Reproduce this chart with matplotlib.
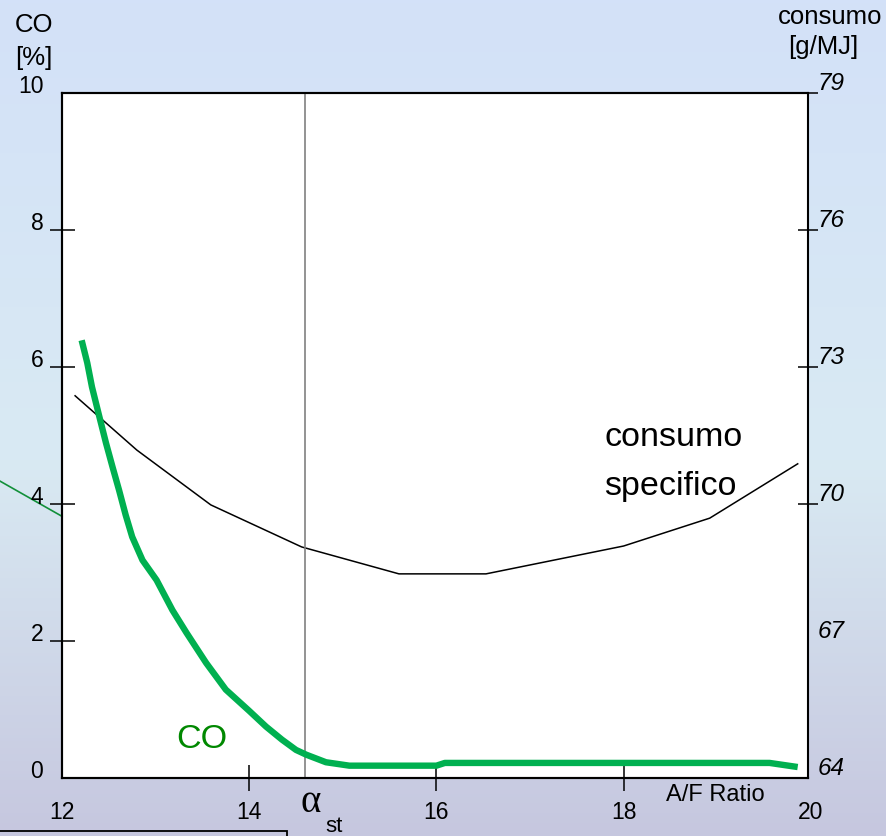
import numpy as np
import matplotlib.pyplot as plt
from matplotlib.colors import LinearSegmentedColormap
from matplotlib.patches import Rectangle

plt.rcParams['font.family'] = ['Liberation Sans', 'DejaVu Sans']

# CO emission [%] against air/fuel ratio
co_af = [12.21, 12.27, 12.32, 12.40, 12.47, 12.54, 12.61, 12.68, 12.75, 12.86,
         13.01, 13.18, 13.33, 13.54, 13.75, 14.00, 14.18, 14.35, 14.50, 14.61,
         14.82, 15.07, 16.00, 16.09, 19.56, 19.86]
co_pct = [6.39, 6.06, 5.71, 5.27, 4.89, 4.54, 4.20, 3.84, 3.52, 3.18,
          2.89, 2.45, 2.12, 1.68, 1.29, 0.98, 0.75, 0.56, 0.41, 0.34,
          0.23, 0.18, 0.18, 0.22, 0.22, 0.16]

# specific consumption [g/MJ] against air/fuel ratio
cons_af = [12.14, 12.80, 13.59, 14.56, 15.60, 16.53, 18.00, 18.92, 19.86]
cons_gmj = [72.37, 71.18, 69.98, 69.06, 68.47, 68.47, 69.08, 69.69, 70.88]

# connector line coming in from the left of the slide
link_af = [11.33, 12.0]
link_co = [4.34, 3.82]

af_labels = [12, 14, 16, 18, 20]
co_labels = [0, 2, 4, 6, 8, 10]
cons_labels = [64, 67, 70, 73, 76, 79]
af_stoich = 14.6

W, H = 887, 836
fig = plt.figure(figsize=(W / 100, H / 100), dpi=100)

# slide background gradient
bg = fig.add_axes([0, 0, 1, 1], zorder=-10)
cmap = LinearSegmentedColormap.from_list(
    'slide', [(0, '#d3e1f8'), (0.55, '#d9eaf3'), (1, '#c6c7df')])
bg.imshow(np.linspace(0, 1, 256).reshape(-1, 1), aspect='auto', cmap=cmap,
          extent=[0, 1, 0, 1])
bg.axis('off')

ax = fig.add_axes([62 / W, 1 - 778 / H, (808 - 62) / W, (778 - 93) / H])
ax.set_xlim(12, 19.97)
ax.set_ylim(0, 10)
ax2 = ax.twinx()
ax2.set_ylim(64, 79)

# CO axis sits on top so the green curve covers the consumption line
ax.set_zorder(2)
ax.patch.set_visible(False)
ax2.set_zorder(1)
ax2.patch.set_visible(True)
ax2.patch.set_facecolor('white')

for a in (ax, ax2):
    for s in a.spines.values():
        s.set_linewidth(1.5)
ax.spines['right'].set_visible(False)

ax.set_xticks([14, 16, 18])
ax.tick_params(axis='x', direction='inout', length=19, width=1.1, labelbottom=False)
ax.set_yticks([2, 4, 6, 8])
ax.tick_params(axis='y', direction='inout', length=18, width=1.1, labelleft=False)
ax2.set_yticks([70, 73, 76, 79])
ax2.tick_params(axis='y', direction='inout', length=14, width=1.1, labelright=False)

ax.axvline(af_stoich, color='#808080', lw=1.2, zorder=1)
ax2.plot(cons_af, cons_gmj, color='black', lw=1.1)
ax.plot(co_af, co_pct, color='#00b050', lw=4.6, solid_capstyle='butt', zorder=3)
ax.plot(link_af, link_co, color='#12903a', lw=1.2, clip_on=False)

# tick labels
for v in af_labels:
    ax.text(v, -0.051, str(v), transform=ax.get_xaxis_transform(),
            ha='center', va='center', fontsize=16.5)
for v in co_labels:
    ax.text(-0.025, v + 0.09, str(v), transform=ax.get_yaxis_transform(),
            ha='right', va='center', fontsize=16.5)
for v in cons_labels:
    ax2.text(1.013, v + 0.2, str(v), transform=ax2.get_yaxis_transform(),
             ha='left', va='center', fontsize=17.5, style='italic')

fig.text(34 / W, 1 - 25 / H, 'CO', ha='center', va='center', fontsize=18.5)
fig.text(34 / W, 1 - 58 / H, '[%]', ha='center', va='center', fontsize=18.5)
fig.text(830 / W, 1 - 17 / H, 'consumo', ha='center', va='center', fontsize=18.5)
fig.text(823 / W, 1 - 47 / H, '[g/MJ]', ha='center', va='center', fontsize=18.5)
fig.text(715 / W, 1 - 795 / H, 'A/F Ratio', ha='center', va='center', fontsize=17)
fig.text(311 / W, 1 - 803 / H, '\u03b1', ha='center', va='center', fontsize=28,
         family=['Liberation Serif', 'DejaVu Serif'])
fig.text(334 / W, 1 - 827 / H, 'st', ha='center', va='center', fontsize=16)

fig.text(202 / W, 1 - 740 / H, 'CO', fontsize=24.5, color='#008800',
         ha='center', va='center')
fig.text(604 / W, 1 - 438 / H, 'consumo', ha='left', va='center', fontsize=24.5)
fig.text(604 / W, 1 - 487 / H, 'specifico', ha='left', va='center', fontsize=24.5)

# edge of the text box below the chart
fig.add_artist(Rectangle((-0.01, -0.05), 287 / W + 0.01, 0.05 + 5 / H,
                         transform=fig.transFigure, fill=False,
                         edgecolor='black', lw=1.3))

fig.savefig('out.png', dpi=100)
